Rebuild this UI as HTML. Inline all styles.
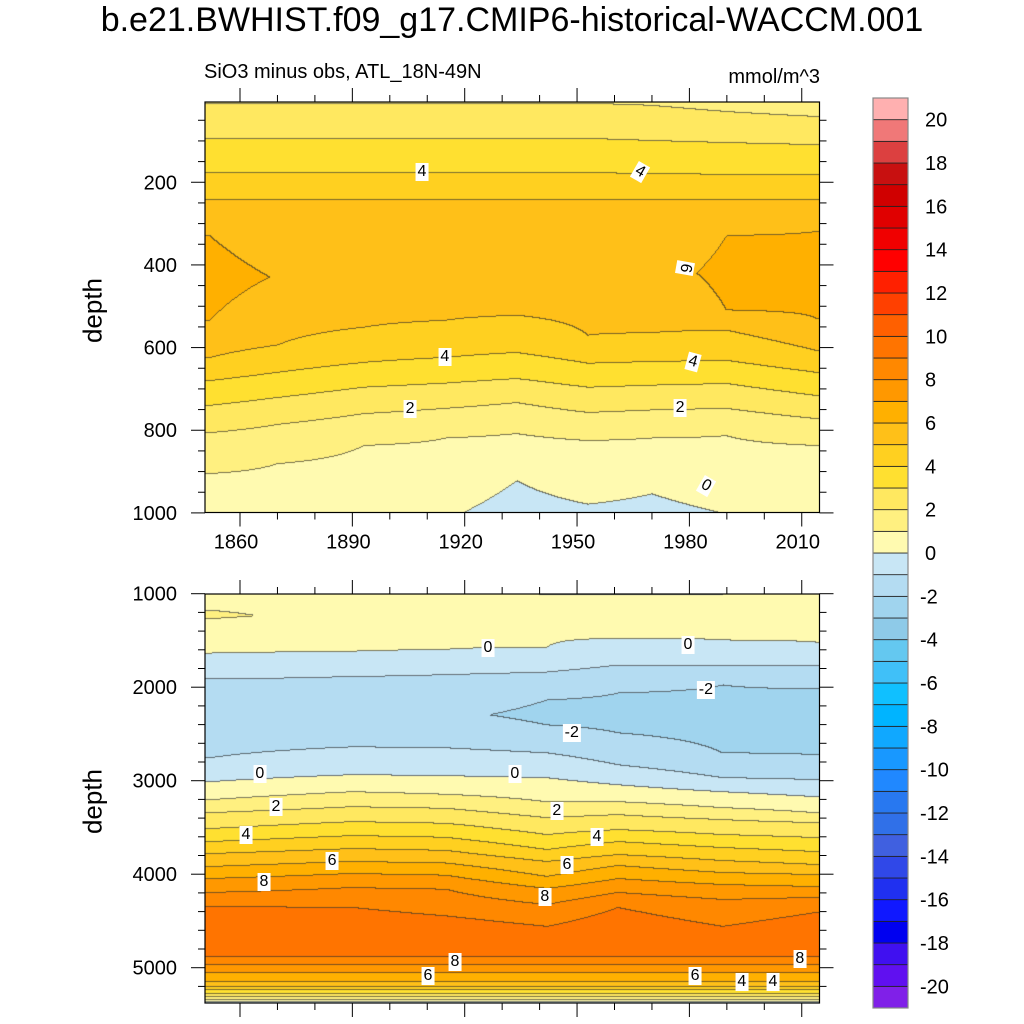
<!DOCTYPE html>
<html><head><meta charset="utf-8">
<style>
body{margin:0;background:#fff;width:1024px;height:1024px;overflow:hidden;position:relative;font-family:"Liberation Sans",sans-serif;}
.abs{position:absolute;}
canvas{position:absolute;}
.lbl{position:absolute;background:#fff;font-size:16px;line-height:16px;padding:1px 2px;transform:translate(-50%,-50%);color:#000;}
</style></head>
<body>
<div class="abs" style="left:0;width:1024px;top:1px;text-align:center;font-size:34px;">b.e21.BWHIST.f09_g17.CMIP6-historical-WACCM.001</div>
<div class="abs" style="left:204px;top:61px;font-size:20px;">SiO3 minus obs, ATL_18N-49N</div>
<div class="abs" style="left:680px;width:140px;text-align:right;top:66px;font-size:20px;">mmol/m^3</div>
<div class="abs" style="left:53px;top:295px;width:80px;text-align:center;font-size:26px;transform:rotate(-90deg);">depth</div>
<div class="abs" style="left:53px;top:786px;width:80px;text-align:center;font-size:26px;transform:rotate(-90deg);">depth</div>
<canvas id="cTop" width="615" height="411" style="left:205px;top:102px"></canvas>
<canvas id="cBot" width="615" height="409" style="left:205px;top:594px"></canvas>
<svg id="ax" class="abs" style="left:0;top:0" width="1024" height="1024"></svg>
<div id="labels"></div>
<script>
// ---- data ----
const colorLevels=[-20,-19,-18,-17,-16,-15,-14,-13,-12,-11,-10,-9,-8,-7,-6,-5,-4,-3,-2,-1,0,1,2,3,4,5,6,7,8,9,10,11,12,13,14,15,16,17,18,19,20];
const colors=["#8020e8","#6010f0","#4010f0","#0000f0","#1018ff","#2030f0","#3048e8","#4060e0","#3070e8","#2878f0","#2088ff","#1898ff","#10a8ff","#00b4ff","#10c0ff","#40c0f8","#64c8f0","#8ecae8","#a0d4ee","#b4dcf2","#c8e6f5","#fffab0","#fff080","#ffe860","#ffe030","#ffd020","#ffc018","#ffb000","#ff9800","#ff8800","#ff7400","#ff6000","#ff4000","#ff2000","#ff0000","#f00000","#e00000","#d00000","#c81010","#dc4040","#f07878","#ffb0b0"];
const cbLabels=[20,18,16,14,12,10,8,6,4,2,0,-2,-4,-6,-8,-10,-12,-14,-16,-18,-20];

const topYears=[1852,1870,1893,1915,1934,1953,1970,1990,2014];
const topProfiles=[
 [[5,1.95],[10,2],[95,3],[178,4],[244,5],[330,6],[430,6.4],[535,6],[625,5],[681,4],[741,3],[807,2],[906,1],[1000,0.6]],
 [[5,1.95],[10,2],[95,3],[178,4],[244,5],[430,5.95],[595,5],[661,4],[722,3],[787,2],[882,1],[1000,0.5]],
 [[5,1.95],[10,2],[95,3],[178,4],[244,5],[420,5.7],[552,5],[637,4],[697,3],[761,2],[838,1],[1000,0.35]],
 [[5,1.95],[10,2],[95,3],[178,4],[244,5],[410,5.6],[535,5],[625,4],[687,3],[748,2],[820,1],[1000,0.1]],
 [[5,1.95],[10,2],[95,3],[178,4],[244,5],[410,5.6],[523,5],[613,4],[676,3],[734,2],[809,1],[923,0],[1000,-0.3]],
 [[5,1.95],[10,2],[95,3],[178,4],[244,5],[410,5.6],[571,5],[639,4],[697,3],[758,2],[826,1],[980,0],[1000,-0.1]],
 [[5,1.9],[15,2],[100,3],[180,4],[244,5],[420,5.7],[565,5],[635,4],[692,3],[752,2],[820,1],[955,0],[1000,-0.2]],
 [[5,1.7],[30,2],[105,3],[182,4],[244,5],[330,6],[420,6.2],[510,6],[559,5],[632,4],[688,3],[748,2],[814,1],[1000,0.02]],
 [[5,1.45],[42,2],[110,3],[183,4],[244,5],[320,6],[430,6.4],[530,6],[608,5],[661,4],[717,3],[773,2],[838,1],[1000,0.35]]
];
const botYears=[1852,1890,1915,1942,1961,1989,2014];
const botProfiles=[
 [[1000,0.7],[1240,1.1],[1400,0.6],[1640,0],[1917,-1],[2300,-1.8],[2760,-1],[3016,0],[3208,1],[3347,2],[3517,3],[3656,4],[3784,5],[3923,6],[4051,7],[4200,8],[4349,9],[4620,9.8],[4883,9],[4968,8],[5053,7],[5149,6],[5203,5],[5235,4],[5277,3],[5309,2],[5341,1],[5380,-0.3]],
 [[1000,0.7],[1240,0.8],[1620,0],[1890,-1],[2300,-1.8],[2643,-1],[2941,0],[3123,1],[3283,2],[3443,3],[3592,4],[3731,5],[3869,6],[3997,7],[4147,8],[4360,9],[4620,9.8],[4883,9],[4968,8],[5053,7],[5149,6],[5203,5],[5235,4],[5277,3],[5309,2],[5341,1],[5380,-0.3]],
 [[1000,0.6],[1600,0],[1870,-1],[2300,-1.85],[2653,-1],[2952,0],[3150,1],[3300,2],[3460,3],[3610,4],[3750,5],[3885,6],[4015,7],[4165,8],[4450,9],[4650,9.8],[4883,9],[4968,8],[5053,7],[5149,6],[5203,5],[5235,4],[5277,3],[5309,2],[5341,1],[5380,-0.3]],
 [[1000,-0.1],[1060,0.3],[1576,0],[1843,-1],[2141,-2],[2300,-2.2],[2408,-2],[2707,-1],[2973,0],[3230,1],[3400,2],[3581,3],[3741,4],[3869,5],[4029,6],[4157,7],[4328,8],[4563,9],[4700,9.6],[4883,9],[4968,8],[5053,7],[5149,6],[5203,5],[5235,4],[5277,3],[5309,2],[5341,1],[5380,-0.3]],
 [[1000,-0.1],[1060,0.3],[1480,0],[1768,-1],[2067,-2],[2300,-2.3],[2493,-2],[2835,-1],[3048,0],[3229,1],[3368,2],[3528,3],[3656,4],[3795,5],[3912,6],[4051,7],[4200,8],[4360,9],[4620,9.8],[4883,9],[4968,8],[5053,7],[5149,6],[5203,5],[5235,4],[5277,3],[5309,2],[5341,1],[5380,-0.3]],
 [[1000,-0.05],[1060,0.3],[1500,0],[1768,-1],[1981,-2],[2350,-2.4],[2707,-2],[2973,-1],[3123,0],[3293,1],[3421,2],[3581,3],[3720,4],[3859,5],[3987,6],[4115,7],[4275,8],[4563,9],[4700,9.6],[4883,9],[4968,8],[5053,7],[5149,6],[5203,5],[5235,4],[5277,3],[5309,2],[5341,1],[5380,-0.3]],
 [[1000,0.5],[1523,0],[1768,-1],[2024,-2],[2350,-2.4],[2728,-2],[2995,-1],[3176,0],[3347,1],[3453,2],[3613,3],[3763,4],[3901,5],[4008,6],[4136,7],[4253,8],[4413,9],[4650,9.8],[4883,9],[4968,8],[5053,7],[5149,6],[5203,5],[5235,4],[5277,3],[5309,2],[5341,1],[5380,-0.3]]
];
const topLabels=[[1908.6,175,"4",0],[1966.8,175,"4",30],[1978.8,407,"6",100],[1914.7,623,"4",0],[1981,635,"4",15],[1905.4,748,"2",0],[1977.5,746,"2",0],[1984.4,935,"0",30]];
const botLabels=[[1926.2,1581,"0"],[1979.6,1549,"0"],[1984.4,2030,"-2"],[1948.6,2490,"-2"],[1865.3,2923,"0"],[1933.4,2923,"0"],[1869.6,3276,"2"],[1944.6,3319,"2"],[1861.6,3585,"4"],[1955.3,3606,"4"],[1884.6,3863,"6"],[1947.3,3906,"6"],[1866.4,4088,"8"],[1941.4,4248,"8"],[1917.4,4934,"8"],[1910.2,5094,"6"],[1981.5,5084,"6"],[1994,5148,"4"],[2002.3,5148,"4"],[2009.5,4912,"8"]];
const xTicksMajor=[1860,1890,1920,1950,1980,2010];
const topYTicks=[200,400,600,800,1000];
const botYTicks=[1000,2000,3000,4000,5000];

// ---- axes ----
const X0=205,X1=819.5;
const xs=y=>240+(y-1860)*3.745;
const xinv=x=>1860+(x-240)/3.745;
const yTop=d=>99.6+d*0.4133;
const yTopInv=y=>(y-99.6)/0.4133;
const yBot=d=>593.7+(d-1000)*0.0935;
const yBotInv=y=>1000+(y-593.7)/0.0935;

function prof(p,d){
  if(d<=p[0][0])return p[0][1];
  for(let i=1;i<p.length;i++){if(d<=p[i][0]){const a=p[i-1],b=p[i];return a[1]+(b[1]-a[1])*(d-a[0])/(b[0]-a[0]);}}
  return p[p.length-1][1];
}
function field(years,profs,t,d){
  if(t<=years[0])return prof(profs[0],d);
  for(let i=1;i<years.length;i++){if(t<=years[i]){const f=(t-years[i-1])/(years[i]-years[i-1]);return prof(profs[i-1],d)*(1-f)+prof(profs[i],d)*f;}}
  return prof(profs[profs.length-1],d);
}
function levelIdx(v){let i=0;while(i<colorLevels.length&&v>=colorLevels[i])i++;return i;}
function hex(c){return [parseInt(c.slice(1,3),16),parseInt(c.slice(3,5),16),parseInt(c.slice(5,7),16)];}
const rgb=colors.map(hex);
function draw(id,top,years,profs,yinv){
  const cv=document.getElementById(id),ctx=cv.getContext('2d'),W=cv.width,H=cv.height;
  const img=ctx.createImageData(W,H);const L=new Int16Array(W*H);
  for(let j=0;j<H;j++){const d=yinv(top+j+0.5);for(let i=0;i<W;i++){L[j*W+i]=levelIdx(field(years,profs,xinv(X0+i+0.5),d));}}
  for(let j=0;j<H;j++)for(let i=0;i<W;i++){const k=j*W+i;let c=rgb[L[k]];let line=(i<W-1&&L[k+1]!==L[k])||(j<H-1&&L[k+W]!==L[k]);
    const p=k*4;if(line){img.data[p]=c[0]*0.35+30;img.data[p+1]=c[1]*0.35+30;img.data[p+2]=c[2]*0.35+30;}else{img.data[p]=c[0];img.data[p+1]=c[1];img.data[p+2]=c[2];}img.data[p+3]=255;}
  ctx.putImageData(img,0,0);
}
draw('cTop',102,topYears,topProfiles,yTopInv);
draw('cBot',594,botYears,botProfiles,yBotInv);

const NS="http://www.w3.org/2000/svg",svg=document.getElementById('ax');
function el(tag,attrs){const e=document.createElementNS(NS,tag);for(const k in attrs)e.setAttribute(k,attrs[k]);svg.appendChild(e);return e;}
function ln(x1,y1,x2,y2,name){const e=el('line',{x1,y1,x2,y2,stroke:'#000','stroke-width':1});

}
function txt(x,y,s,anchor,size,name){const e=el('text',{x,y,'text-anchor':anchor,'font-size':size,'font-family':'Liberation Sans, sans-serif'});e.textContent=s;

}
const panels=[{yt:102,yb:512.5,ys:yTop,ticks:topYTicks,minor:50,dmin:5,dmax:1000,xlab:true},{yt:594,yb:1003,ys:yBot,ticks:botYTicks,minor:200,dmin:1000,dmax:5380,xlab:false}];
panels.forEach((p,pi)=>{
  const r=el('rect',{x:X0,y:p.yt,width:X1-X0,height:p.yb-p.yt,fill:'none',stroke:'#000','stroke-width':1.2});
  
  
  for(let yr=1860;yr<=2014;yr+=10){const x=xs(yr),maj=xTicksMajor.includes(yr),len=maj?14:7;
    ln(x,p.yt,x,p.yt-len,'x-tick');ln(x,p.yb,x,p.yb+len,'x-tick');
    if(maj&&p.xlab)txt(x-4,p.yb+36,String(yr),'middle',20,'x-tick-label');}
  for(let d=Math.ceil(p.dmin/p.minor)*p.minor;d<=p.dmax;d+=p.minor){const y=p.ys(d);if(y<p.yt-0.5||y>p.yb+0.5)continue;const maj=p.ticks.includes(d),len=maj?14:7;
    ln(X0,y,X0-len,y,'y-tick');ln(X1,y,X1+len,y,'y-tick');
    if(maj)txt(177,y+7,String(d),'end',20,'y-tick-label');}
});
// colorbar
const CBX=873,CBW=35,CBT=98,CBH=910,bh=CBH/colors.length;
colors.forEach((c,i)=>{const y=CBT+CBH-(i+1)*bh;const r=el('rect',{x:CBX,y:y,width:CBW,height:bh,fill:c,stroke:'#222','stroke-width':0.8});

});
const cbf=el('rect',{x:CBX,y:CBT,width:CBW,height:CBH,fill:'none',stroke:'#888','stroke-width':1.2});


cbLabels.forEach(v=>{const i=colorLevels.indexOf(v);const y=CBT+CBH-(i+1)*bh;txt(v<0?920:925,y+7,String(v),'start',20,'colorbar-label');});
// contour labels
const lab=document.getElementById('labels');
function addLabel(x,y,s,rot){const d=document.createElement('div');d.className='lbl';d.style.left=x+'px';d.style.top=y+'px';if(rot)d.style.transform='translate(-50%,-50%) rotate('+rot+'deg)';d.textContent=s;


lab.appendChild(d);}
topLabels.forEach(l=>addLabel(xs(l[0]),yTop(l[1]),l[2],l[3]));
botLabels.forEach(l=>addLabel(xs(l[0]),yBot(l[1]),l[2],0));
</script>
</body></html>
